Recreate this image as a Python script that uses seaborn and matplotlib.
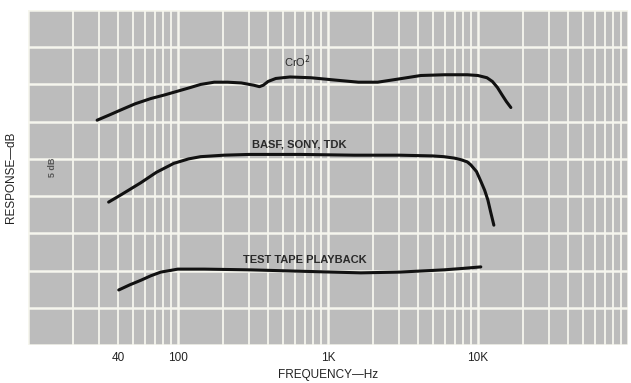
import matplotlib
matplotlib.use("Agg")
import matplotlib.pyplot as plt
import seaborn as sns
import pandas as pd
from matplotlib.ticker import LogLocator, FixedLocator, FuncFormatter, NullFormatter

# frequency response curves (Hz, dB on a 0-45 scale)
cro2_freq = [29, 35, 42, 52, 66, 82, 100, 122, 142, 175, 215, 265, 320, 350, 372, 400,
             450, 560, 770, 1100, 1600, 2150, 2900, 4170, 6000, 8500, 10000, 11500,
             12500, 13500, 14500, 15500, 16600]
cro2_db = [30.2, 30.9, 31.6, 32.4, 33.1, 33.6, 34.1, 34.6, 35.0, 35.3, 35.3, 35.2,
           34.9, 34.7, 34.9, 35.4, 35.8, 36.0, 35.9, 35.6, 35.3, 35.3, 35.7, 36.2,
           36.3, 36.3, 36.2, 35.9, 35.4, 34.6, 33.6, 32.7, 31.9]

basf_freq = [34.6, 42, 56.7, 72, 94, 118, 142, 170, 203, 300, 660, 1500, 3000, 5000,
             5930, 7000, 7700, 8500, 8980, 9800, 10470, 11100, 11660, 12200, 12790]
basf_db = [19.2, 20.2, 21.8, 23.2, 24.4, 25.0, 25.3, 25.4, 25.5, 25.6, 25.6, 25.5,
           25.5, 25.4, 25.3, 25.1, 24.9, 24.6, 24.2, 23.3, 22.0, 20.8, 19.5, 17.8, 16.1]

tape_freq = [40.4, 48, 56.7, 66, 77, 88, 100, 150, 307, 700, 1660, 3000, 5930,
             8000, 10470]
tape_db = [7.4, 8.1, 8.7, 9.3, 9.8, 10.0, 10.2, 10.2, 10.1, 9.9, 9.7, 9.8, 10.1,
           10.3, 10.5]

curve_names = ["CrO$^2$", "BASF, SONY, TDK", "TEST TAPE PLAYBACK"]
label_freq = [630, 650, 700]
label_db = [38.0, 27.0, 11.4]

tick_freqs = [40, 100, 1000, 10000]
tick_texts = ["40", "100", "1K", "10K"]

sns.set_style("white")
plt.rcParams["font.family"] = ["Liberation Sans", "DejaVu Sans"]

fig = plt.figure(figsize=(6.31, 3.83), dpi=100)
ax = fig.add_axes([0.044, 0.099, 0.951, 0.875])
ax.set_facecolor("#bcbcbc")

for f, db in [(cro2_freq, cro2_db), (basf_freq, basf_db), (tape_freq, tape_db)]:
    df = pd.DataFrame({"freq": f, "db": db})
    sns.lineplot(data=df, x="freq", y="db", sort=False, color="#111111",
                 linewidth=2.2, ax=ax, solid_capstyle="round")

ax.set_xscale("log")
ax.set_xlim(10, 100000)
ax.set_ylim(0, 45)

# paper grid: decades + sub-decades, 5 dB rows
ax.xaxis.set_major_locator(FixedLocator([10, 100, 1000, 10000, 100000]))
ax.xaxis.set_minor_locator(LogLocator(base=10, subs=range(2, 10), numticks=20))
ax.xaxis.set_major_formatter(NullFormatter())
ax.xaxis.set_minor_formatter(NullFormatter())
ax.yaxis.set_major_locator(FixedLocator(range(0, 46, 5)))
ax.set_yticklabels([])
ax.grid(True, which="major", color="#f6f6ee", linewidth=1.8)
ax.grid(True, which="minor", axis="x", color="#f6f6ee", linewidth=1.3)
ax.tick_params(which="both", length=0)
for s in ax.spines.values():
    s.set_visible(False)

for fq, txt in zip(tick_freqs, tick_texts):
    ax.annotate(txt, xy=(fq, 0), xycoords=("data", "axes fraction"),
                xytext=(0, -9), textcoords="offset points",
                ha="center", va="center", fontsize=8.5, color="#222222")

for name, fq, db in zip(curve_names, label_freq, label_db):
    ax.text(fq, db, name, ha="center", va="center", fontsize=8,
            color="#2a2a2a", fontweight="bold" if name != curve_names[0] else "normal")

ax.text(0.042, 0.53, "5 dB", transform=ax.transAxes, rotation=90,
        ha="center", va="center", fontsize=6.5, color="#555555", fontweight="bold")

ax.set_xlabel("FREQUENCY\u2014Hz", fontsize=8.5, color="#222222", labelpad=14)
ax.set_ylabel("RESPONSE\u2014dB", fontsize=8.5, color="#222222", labelpad=4)

fig.savefig("out.png", dpi=100)
